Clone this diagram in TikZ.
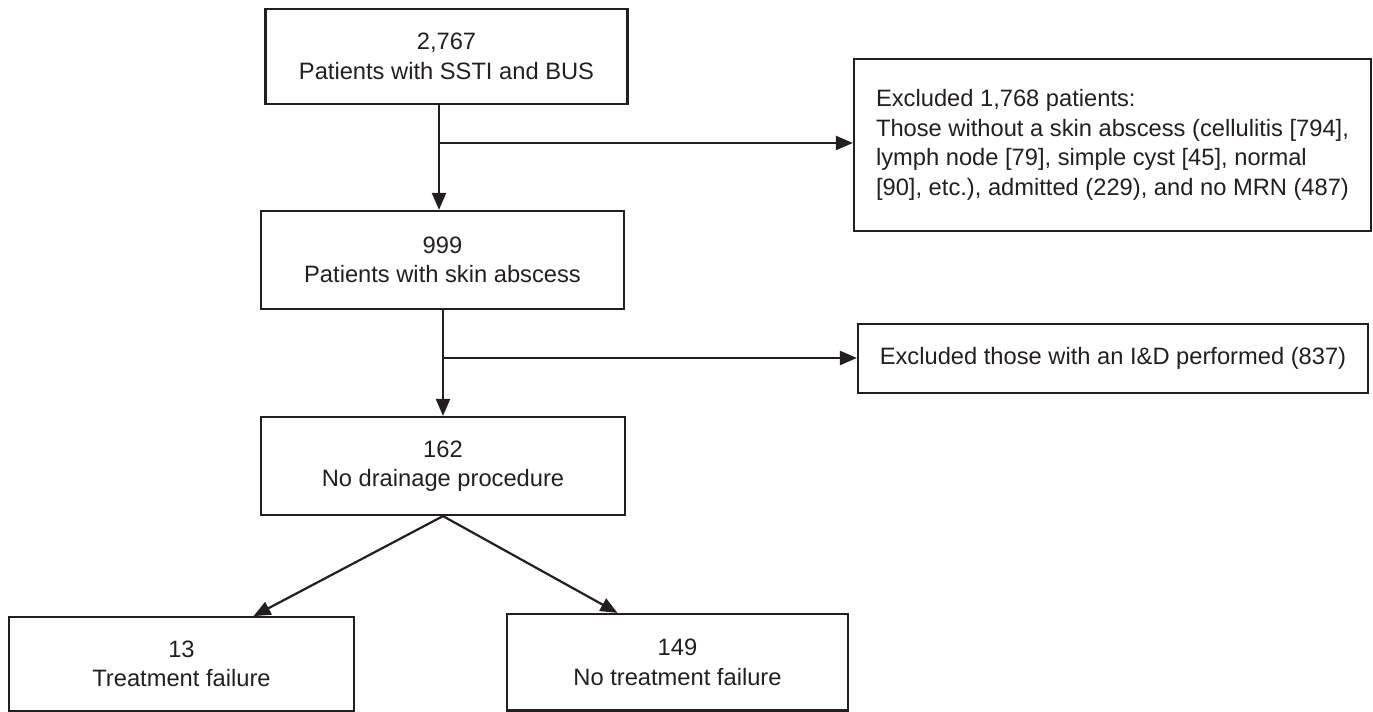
\documentclass[tikz,border=0pt]{standalone}
\usepackage{fontspec}
\setmainfont{Liberation Sans}
\usetikzlibrary{arrows.meta, positioning}
\definecolor{ink}{HTML}{231F20}

\begin{document}
\begin{tikzpicture}[
  x=0.5pt, y=-0.5pt,
  line width=1.1pt, draw=ink, text=ink,
  node font=\fontsize{11.85}{14.75}\selectfont,
  box/.style={draw, align=center, inner sep=0pt,
    minimum width=181pt, minimum height=49pt},
  arr/.style={-{Triangle[length=8.5pt,width=7pt]}}]

  \useasboundingbox (0,0) rectangle (1373,712);

  % main column
  \node[box, minimum height=47.5pt] (total) at (446.5,56.5)
    {2,767\\Patients with SSTI and BUS};
  \node[box, minimum width=181.5pt] (abscess) at (442.5,260)
    {999\\Patients with skin abscess};
  \node[box, minimum width=182pt] (nodrain) at (443,466)
    {162\\No drainage procedure};

  % exclusions
  \node[box, align=left, minimum width=258.5pt, minimum height=86pt] (excl1) at (1112.5,145)
    {Excluded 1,768 patients:\\Those without a skin abscess (cellulitis [794],\\lymph node [79], simple cyst [45], normal\\[0pt][90], etc.), admitted (229), and no MRN (487)};
  \node[box, minimum width=255pt, minimum height=34.5pt] (excl2) at (1113,358.5)
    {Excluded those with an I\&D performed (837)};

  % outcomes
  \node[box, minimum width=172.5pt, minimum height=46.75pt] (fail) at (181.5,664)
    {13\\Treatment failure};
  \node[box, minimum width=170.5pt, minimum height=48.25pt] (nofail) at (677.5,662.25)
    {149\\No treatment failure};

  \coordinate (s1) at (439,143);
  \coordinate (s2) at (443,358);

  \draw[arr] (total.south -| s1) -- (abscess.north -| s1);
  \draw[arr] (s1) -- (excl1.west |- s1);
  \draw[arr] (abscess.south -| s2) -- (nodrain.north -| s2);
  \draw[arr] (s2) -- (excl2.west |- s2);
  \draw[arr] (nodrain.south) -- ([xshift=36pt]fail.north);
  \draw[arr] (nodrain.south) -- ([xshift=-30pt]nofail.north);
\end{tikzpicture}
\end{document}
